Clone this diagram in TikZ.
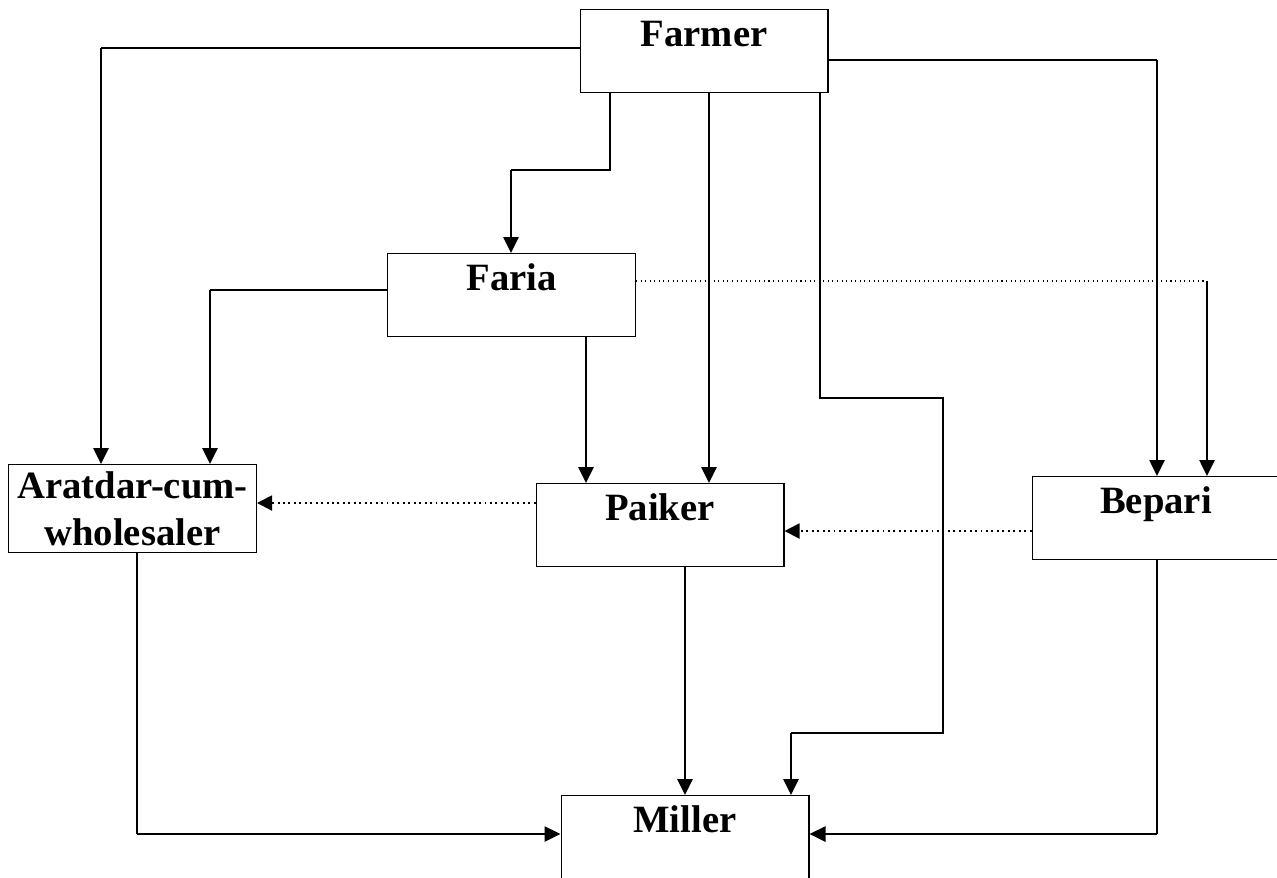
\documentclass[tikz,border=0pt]{standalone}
\usepackage{fontspec}
\setmainfont{Liberation Serif}
\usetikzlibrary{arrows.meta,positioning,calc}

\tikzset{
    actor/.style={draw,line width=0.6pt,inner sep=0pt,minimum width=4.96cm,
        font=\bfseries\fontsize{22}{27}\selectfont},
    oneline/.style={actor,text height=0.73cm,text depth=0.93cm},
    link/.style={line width=0.6pt},
    feed/.style={line width=1.5pt,-{Triangle[length=0.32cm,width=0.3cm]}},
    side/.style={dotted,line width=1.1pt,-{Triangle[length=0.3cm,width=0.3cm]}}
}

\begin{document}
\begin{tikzpicture}[x=0.02cm,y=-0.02cm]
    \useasboundingbox (0,0) rectangle (1277,877);

    \node[oneline,anchor=north] (farmer) at (704,9) {Farmer};
    \node[oneline,anchor=north] (faria) at (511.5,253) {Faria};
    \node[actor,minimum height=1.76cm,align=center,anchor=north] (aratdar) at (132.5,464) {Aratdar-cum-\\wholesaler};
    \node[oneline,anchor=north] (paiker) at (660,483) {Paiker};
    \node[oneline,anchor=north] (bepari) at (1156,476) {Bepari};
    \node[oneline,anchor=north] (miller) at (685,795) {Miller};

    \coordinate (b1) at (101,48);
    \coordinate (b2) at (610,170);
    \coordinate (b3) at (511,170);
    \coordinate (b4) at (820,398);
    \coordinate (b5) at (943,398);
    \coordinate (b6) at (943,733);
    \coordinate (b7) at (791,733);
    \coordinate (b8) at (1157,60);
    \coordinate (b9) at (210,290);
    \coordinate (b10) at (1207,281);
    \coordinate (b11) at (137,834);
    \coordinate (b12) at (1157,834);

    % farmer
    \draw[link] (farmer.west |- b1) -- (b1);
    \draw[feed] (b1) -- (b1 |- aratdar.north);
    \draw[link] (b2 |- farmer.south) -- (b2) -- (b3);
    \draw[feed] (b3) -- (b3 |- faria.north);
    \draw[feed] (709,0 |- farmer.south) -- (709,0 |- paiker.north);
    \draw[link] (b4 |- farmer.south) -- (b4) -- (b5) -- (b6) -- (b7);
    \draw[feed] (b7) -- (b7 |- miller.north);
    \draw[link] (farmer.east |- b8) -- (b8);
    \draw[feed] (b8) -- (b8 |- bepari.north);

    % faria
    \draw[link] (faria.west |- b9) -- (b9);
    \draw[feed] (b9) -- (b9 |- aratdar.north);
    \draw[feed] (586,0 |- faria.south) -- (586,0 |- paiker.north);
    \draw[dotted,line width=0.6pt] (faria.east |- b10) -- (b10);
    \draw[feed] (b10) -- (b10 |- bepari.north);

    % traders
    \draw[side] (paiker.west |- 0,503) -- (aratdar.east |- 0,503);
    \draw[side] (bepari.west |- 0,531) -- (paiker.east |- 0,531);
    \draw[feed] (685,0 |- paiker.south) -- (miller.north);
    \draw[link] (b11 |- aratdar.south) -- (b11);
    \draw[feed] (b11) -- (miller.west |- b11);
    \draw[link] (b12 |- bepari.south) -- (b12);
    \draw[feed] (b12) -- (miller.east |- b12);
\end{tikzpicture}
\end{document}
